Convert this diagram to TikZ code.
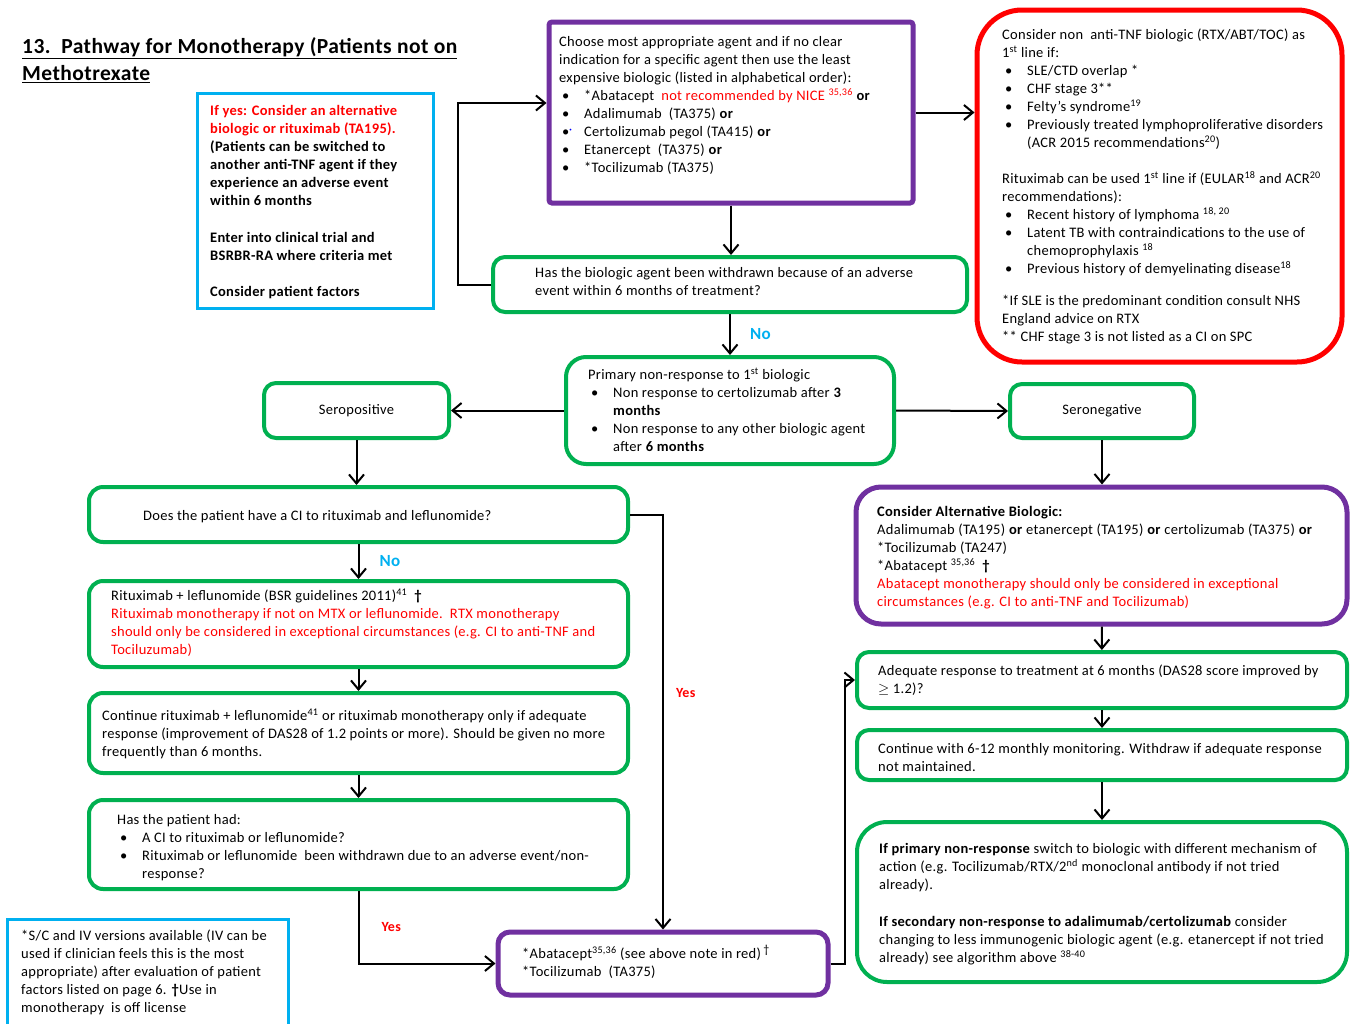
\documentclass[tikz,border=0pt]{standalone}
\usepackage{fontspec}
\setmainfont{Carlito}[LetterSpace=2]
\usepackage{xcolor}
\usetikzlibrary{arrows.meta, fit, positioning}
\definecolor{pgreen}{HTML}{00B050}
\definecolor{ppurple}{HTML}{7030A0}
\definecolor{pcyan}{HTML}{00B0F0}
\newcommand\itm{\hspace*{3pt}\makebox[22pt][l]{\textbullet}}
\newcommand\itmgap{\hspace*{25pt}}
\newcommand\rd[1]{\textcolor{red}{#1}}

\begin{document}
\begin{tikzpicture}[x=1pt, y=-1pt,
  every node/.style={inner sep=0pt},
  txt/.style={anchor=north west, align=left, font=\fontsize{14.5}{18}\selectfont},
  gbox/.style={draw=pgreen, line width=4pt, rounded corners=12pt},
  pbox/.style={draw=ppurple, line width=5pt, rounded corners=12pt},
  bbox/.style={draw=pcyan, line width=3pt},
  arr/.style={line width=2pt, -{Straight Barb[length=9pt,width=15pt]}},
  nolbl/.style={text=pcyan, font=\fontsize{17}{20}\selectfont\bfseries},
  yeslbl/.style={text=red, font=\fontsize{14}{16}\selectfont\bfseries}]
\useasboundingbox (0,0) rectangle (1357,1023);

\node[bbox, fit={(197,93)(433,308)}] (ifyes) {};
\node[pbox, rounded corners=3pt, fit={(549,22)(913,203)}] (choose) {};
\node[draw=red, line width=5pt, rounded corners=45pt, fit={(977,10)(1342,362)}] (nontnf) {};
\node[gbox, fit={(493,257)(967,312)}] (withdrawn) {};
\node[gbox, rounded corners=20pt, fit={(566,357)(894,464)}] (primary) {};
\node[gbox, fit={(264,383)(449,438)}] (seropos) {};
\node[gbox, fit={(1010,384)(1194,438)}] (seroneg) {};
\node[gbox, rounded corners=14pt, fit={(89,487)(628,542)}] (ci) {};
\node[gbox, rounded corners=14pt, fit={(89,581)(628,667)}] (rtxlef) {};
\node[gbox, rounded corners=14pt, fit={(89,693)(628,773)}] (contrtx) {};
\node[gbox, rounded corners=14pt, fit={(89,800)(628,889)}] (hadci) {};
\node[pbox, fit={(498,932)(828,995)}] (abatoci) {};
\node[pbox, rounded corners=25pt, fit={(856,487)(1347,624)}] (altbio) {};
\node[gbox, fit={(857,652)(1347,708)}] (adequate) {};
\node[gbox, fit={(857,730)(1347,780)}] (monitor) {};
\node[gbox, rounded corners=30pt, fit={(857,822)(1347,982)}] (switch) {};
\node[bbox, fit={(7,919)(288,1035)}] (footnote) {};

\node[txt, font=\fontsize{21.5}{27}\selectfont\bfseries] (title) at (22,37) {\underline{13.\enspace Pathway for Monotherapy (Patients not on}\\ \underline{Methotrexate}};
\node[txt, font=\fontsize{14.5}{18}\selectfont\bfseries] (ifyest) at (210,105) {\rd{If yes: Consider an alternative}\\ \rd{biologic or rituximab (TA195).}\\ (Patients can be switched to\\ another anti-TNF agent if they\\ experience an adverse event\\ within 6 months\\[19pt] Enter into clinical trial and\\ BSRBR-RA where criteria met\\[18pt] Consider patient factors};
\node[txt] (chooset) at (559,36) {Choose most appropriate agent and if no clear\\ indication for a specific agent then use the least\\ expensive biologic (listed in alphabetical order):\\ \itm *Abatacept\ \ \rd{not recommended by NICE \textsuperscript{35,36}} \textbf{or}\\ \itm Adalimumab\ \ (TA375) \textbf{or}\\ \hspace*{3pt}\makebox[22pt][l]{\textbullet\textsuperscript{\tiny\color{blue}\textbullet}}Certolizumab pegol (TA415) \textbf{or}\\ \itm Etanercept\ \ (TA375) \textbf{or}\\ \itm *Tocilizumab (TA375)};
\node[txt] (nontnft) at (1002,29) {Consider non\ \ anti-TNF biologic (RTX/ABT/TOC) as\\ 1\textsuperscript{st} line if:\\ \itm SLE/CTD overlap *\\ \itm CHF stage 3**\\ \itm Felty's syndrome\textsuperscript{19}\\ \itm Previously treated lymphoproliferative disorders\\ \itmgap(ACR 2015 recommendations\textsuperscript{20})\\[18pt] Rituximab can be used 1\textsuperscript{st} line if (EULAR\textsuperscript{18} and ACR\textsuperscript{20}\\ recommendations):\\ \itm Recent history of lymphoma \textsuperscript{18, 20}\\ \itm Latent TB with contraindications to the use of\\ \itmgap chemoprophylaxis \textsuperscript{18}\\ \itm Previous history of demyelinating disease\textsuperscript{18}\\[14pt] {}*If SLE is the predominant condition consult NHS\\ England advice on RTX\\ {}** CHF stage 3 is not listed as a CI on SPC};
\node[txt] (withdrawnt) at (535,267) {Has the biologic agent been withdrawn because of an adverse\\ event within 6 months of treatment?};
\node[txt] (primaryt) at (588,368) {Primary non-response to 1\textsuperscript{st} biologic\\ \itm Non response to certolizumab after \textbf{3}\\ \itmgap\textbf{months}\\ \itm Non response to any other biologic agent\\ \itmgap after \textbf{6 months}};
\node[font=\fontsize{14.5}{18}\selectfont] (seropost) at (seropos) {Seropositive};
\node[font=\fontsize{14.5}{18}\selectfont] (seronegt) at (seroneg) {Seronegative};
\node[txt] (cit) at (143,510) {Does the patient have a CI to rituximab and leflunomide?};
\node[txt] (rtxleft) at (111,589) {Rituximab + leflunomide (BSR guidelines 2011)\textsuperscript{41}\ \ \textbf{†}\\ \rd{Rituximab monotherapy if not on MTX or leflunomide.\ \ RTX monotherapy}\\ \rd{should only be considered in exceptional circumstances (e.g. CI to anti-TNF and}\\ \rd{Tociluzumab)}};
\node[txt] (contrtxt) at (102,709) {Continue rituximab + leflunomide\textsuperscript{41} or rituximab monotherapy only if adequate\\ response (improvement of DAS28 of 1.2 points or more). Should be given no more\\ frequently than 6 months.};
\node[txt] (hadcit) at (117,814) {Has the patient had:\\ \itm A CI to rituximab or leflunomide?\\ \itm Rituximab or leflunomide\ \ been withdrawn due to an adverse event/non-\\ \itmgap response?};
\node[txt] (abatocit) at (522,945) {*Abatacept\textsuperscript{35,36} (see above note in red)\,\textsuperscript{\large †}\\ {}*Tocilizumab\ \ (TA375)};
\node[txt] (altbiot) at (877,506) {\textbf{Consider Alternative Biologic:}\\ Adalimumab (TA195) \textbf{or} etanercept (TA195) \textbf{or} certolizumab (TA375) \textbf{or}\\ {}*Tocilizumab (TA247)\\ {}*Abatacept \textsuperscript{35,36}\ \ \textbf{†}\\ \rd{Abatacept monotherapy should only be considered in exceptional}\\ \rd{circumstances (e.g. CI to anti-TNF and Tocilizumab)}};
\node[txt] (adequatet) at (878,665) {Adequate response to treatment at 6 months (DAS28 score improved by\\ $\geq$ 1.2)?};
\node[txt] (monitort) at (878,743) {Continue with 6-12 monthly monitoring. Withdraw if adequate response\\ not maintained.};
\node[txt] (switcht) at (879,843) {\textbf{If primary non-response} switch to biologic with different mechanism of\\ action (e.g. Tocilizumab/RTX/2\textsuperscript{nd} monoclonal antibody if not tried\\ already).\\[19pt] \textbf{If secondary non-response to adalimumab/certolizumab} consider\\ changing to less immunogenic biologic agent (e.g. etanercept if not tried\\ already) see algorithm above \textsuperscript{38-40}};
\node[txt] (footnotet) at (21,930) {*S/C and IV versions available (IV can be\\ used if clinician feels this is the most\\ appropriate) after evaluation of patient\\ factors listed on page 6. \textbf{†}Use in\\ monotherapy\ \ is off license};

\draw[arr] (choose.south) -- (choose.south |- withdrawn.north);
\draw[arr] (withdrawn.west) -- ++(-33,0) |- ([yshift=9.5pt]choose.west);
\draw[arr] (choose.east) -- (choose.east -| nontnf.west);
\draw[arr] (withdrawn.south) -- node[right=19pt, nolbl] {No} (withdrawn.south |- primary.north);
\draw[arr] (primary.west) -- (seropos.east);
\draw[arr] (primary.east) -- (seroneg.west);
\draw[arr] (seropos.south) -- (seropos.south |- ci.north);
\draw[arr] (ci.south) -- node[right=20pt, nolbl] {No} (rtxlef.north);
\draw[arr] (rtxlef) -- (contrtx);
\draw[arr] (contrtx) -- (hadci);
\draw[arr] (hadci.south) |- node[pos=0.25, right=22pt, yeslbl] {Yes} (abatoci.west);
\draw[arr] (ci.east) -| node[pos=0.715, right=12pt, yeslbl] {Yes} (abatoci.north);
\draw[arr] (abatoci.east) -- ++(14,0) |- (adequate.west);
\draw[arr] (seroneg.south) -- (seroneg.south |- altbio.north);
\draw[arr] (altbio) -- (adequate);
\draw[arr] (adequate) -- (monitor);
\draw[arr] (monitor) -- (switch);
\end{tikzpicture}
\end{document}
